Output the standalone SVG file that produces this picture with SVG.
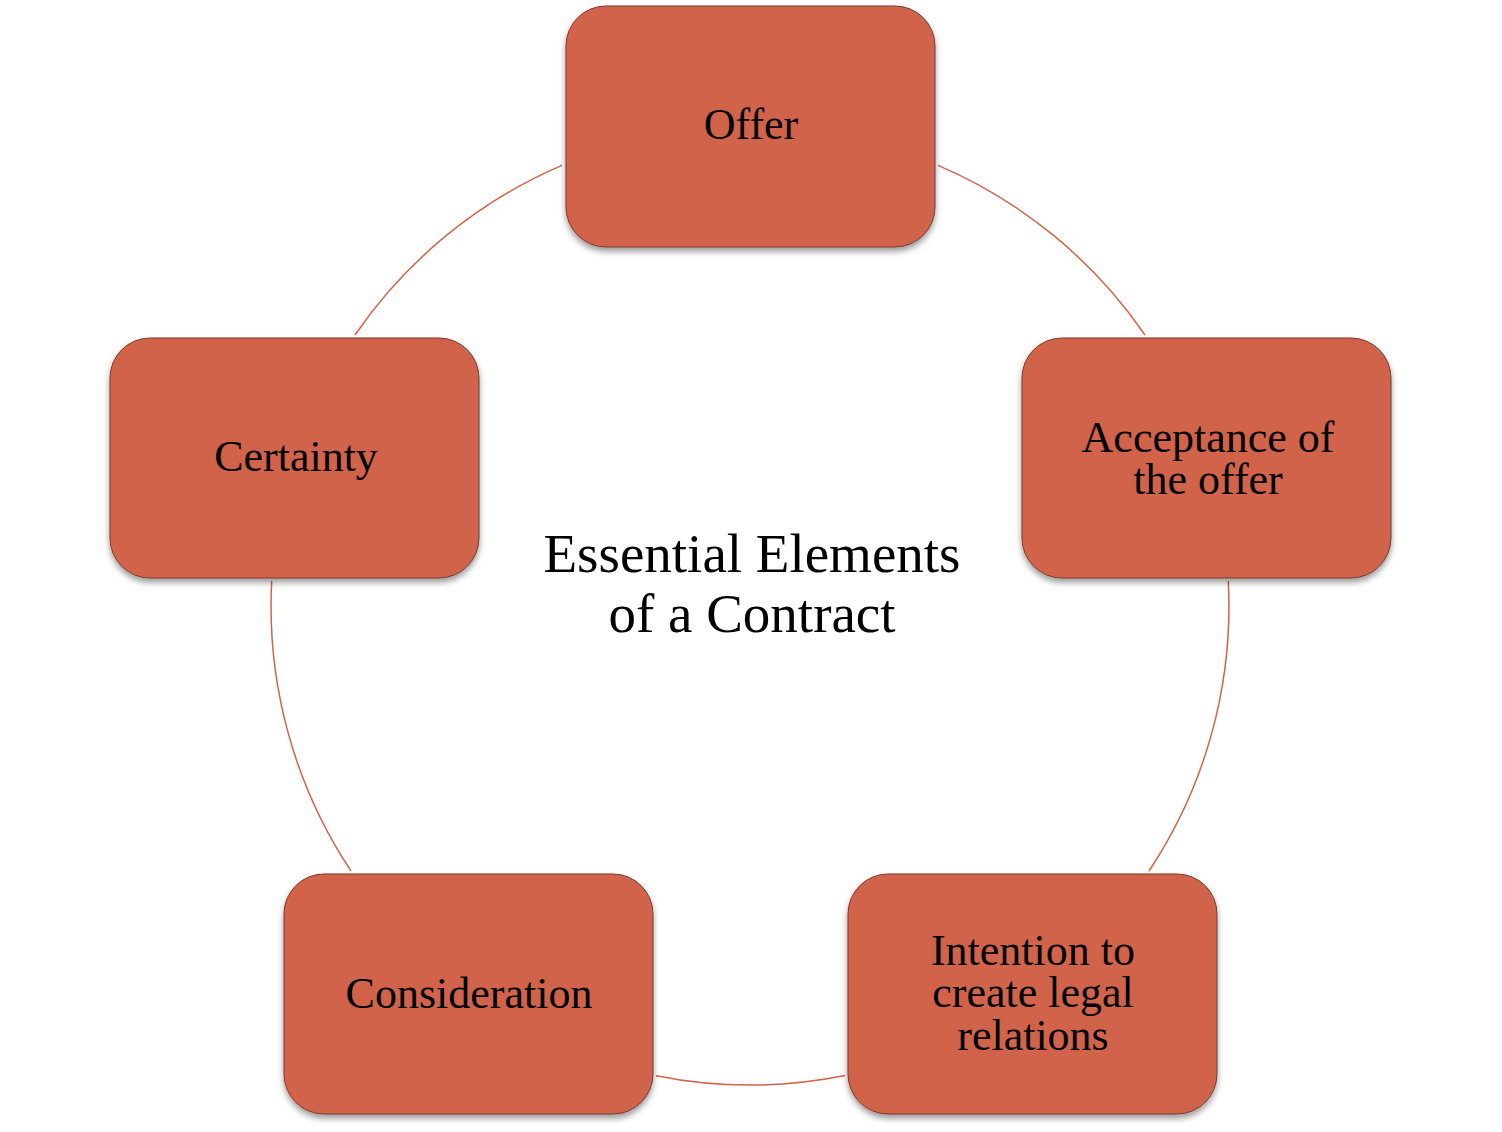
<svg xmlns="http://www.w3.org/2000/svg" width="1502" height="1132" viewBox="0 0 1502 1132">
<defs>
<filter id="sh" x="-10%" y="-10%" width="120%" height="125%">
<feDropShadow dx="0" dy="4" stdDeviation="3" flood-color="#000" flood-opacity="0.4"/>
</filter>
</defs>
<style>
.box{fill:#D0634A;stroke:#7a3a2c;stroke-width:1;filter:url(#sh)}
.lbl{font-family:"Liberation Serif","Times New Roman",serif;font-size:44px;fill:#000;text-anchor:middle}
.title{font-family:"Liberation Serif","Times New Roman",serif;font-size:55px;fill:#000;text-anchor:middle}
.arc{fill:none;stroke:#D0634A;stroke-width:1.5}
</style>
<rect width="1502" height="1132" fill="#fff"/>
<g id="connectors">
<path class="arc" d="M938,165.4 A479,479 0 0 1 1145,335"/>
<path class="arc" d="M1228.3,581 A479,479 0 0 1 1149,871"/>
<path class="arc" d="M845,1075.5 A479,479 0 0 1 656,1075.7"/>
<path class="arc" d="M351,871 A479,479 0 0 1 271.7,581"/>
<path class="arc" d="M355,335 A479,479 0 0 1 562,165.4"/>
</g>
<g id="center">
<text class="title" x="752" y="572">Essential Elements</text>
<text class="title" x="752" y="632">of a Contract</text>
</g>
<g id="offer">
<rect class="box" x="566" y="6" width="369" height="241" rx="40"/>
<text class="lbl" x="751" y="139">Offer</text>
</g>
<g id="acceptance">
<rect class="box" x="1022" y="338" width="369" height="240" rx="40"/>
<text class="lbl" x="1208" y="452">Acceptance of</text>
<text class="lbl" x="1208" y="494">the offer</text>
</g>
<g id="intention">
<rect class="box" x="848" y="874" width="369" height="240" rx="40"/>
<text class="lbl" x="1033" y="965">Intention to</text>
<text class="lbl" x="1033" y="1007">create legal</text>
<text class="lbl" x="1033" y="1050">relations</text>
</g>
<g id="consideration">
<rect class="box" x="284" y="874" width="369" height="240" rx="40"/>
<text class="lbl" x="469" y="1008">Consideration</text>
</g>
<g id="certainty">
<rect class="box" x="110" y="338" width="369" height="240" rx="40"/>
<text class="lbl" x="296" y="471">Certainty</text>
</g>
</svg>
